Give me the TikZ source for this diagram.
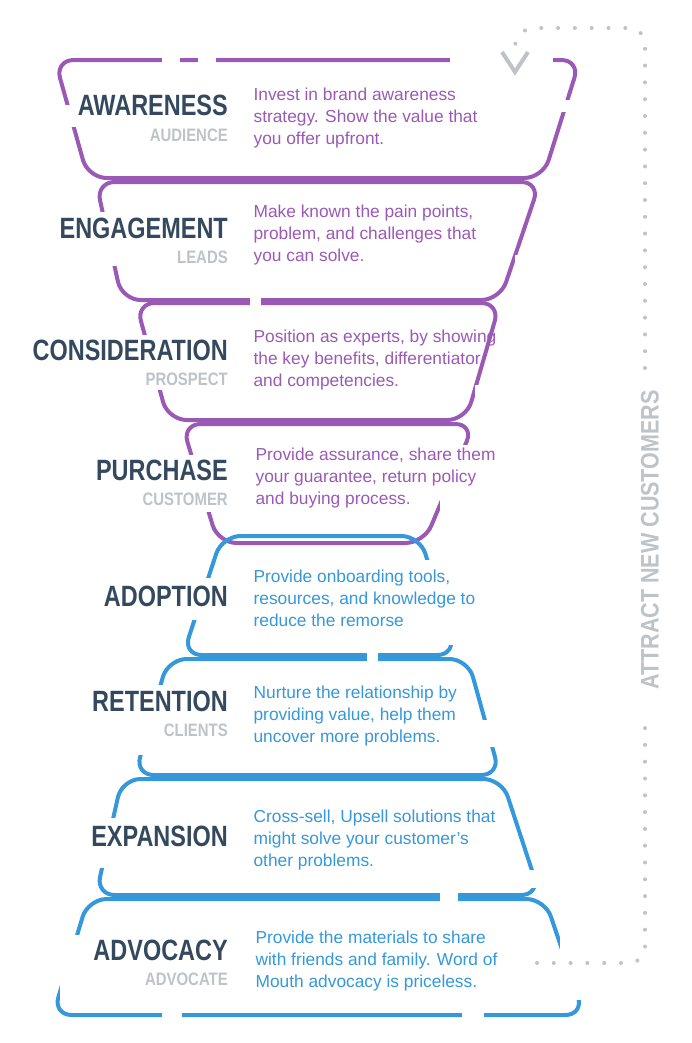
\documentclass[tikz,border=0pt]{standalone}
\usepackage{fontspec}
\setmainfont{Liberation Sans}
\begin{document}
\begin{tikzpicture}[x=0.75pt,y=-0.75pt,
  pur/.style={draw=purp,line width=3pt,rounded corners=14pt},
  blu/.style={draw=blue1,line width=3pt,rounded corners=14pt},
  gap/.style={fill=white,draw=none},
  ttl/.style={anchor=east,text=navy,font=\bfseries\fontsize{22}{24}\selectfont,xscale=0.8,inner sep=0},
  sub/.style={anchor=east,text=grey1,font=\bfseries\fontsize{13.5}{15}\selectfont,xscale=0.83,inner sep=0},
  dsc/.style={anchor=west,font=\fontsize{13}{16.5}\selectfont,align=left,inner sep=1pt},
  dots/.style={draw=grey1,line width=3pt,line cap=round,dash pattern=on 0pt off 12.6pt}]
\definecolor{purp}{HTML}{9B59B6}
\definecolor{blue1}{HTML}{3498DB}
\definecolor{navy}{HTML}{34495E}
\definecolor{grey1}{HTML}{BDC3C7}
\useasboundingbox (0,0) rectangle (692,1043);
% funnel shapes
\draw[pur] (55,60) -- (580,60) -- (543,178) -- (88,178) -- cycle;
\draw[pur] (96,182) -- (540,182) -- (500,300) -- (122,300) -- cycle;
\draw[pur] (136,303) -- (500,303) -- (466,420) -- (168,420) -- cycle;
\draw[pur] (182,424) -- (474,424) -- (424,543) -- (218,543) -- cycle;
\draw[blu] (222,536) -- (420,536) -- (456,655) -- (183,655) -- cycle;
\draw[blu] (168,659) -- (468,659) -- (500,775) -- (135,775) -- cycle;
\draw[blu] (122,779) -- (502,779) -- (540,895) -- (96,895) -- cycle;
\draw[blu] (88,899) -- (545,899) -- (584,1015) -- (53,1015) -- cycle;
% gaps
\fill[gap] (162,55) rectangle (180,66);
\fill[gap] (198,55) rectangle (216,66);
\fill[gap] (450,55) rectangle (553,66);
\fill[gap] (50,105) rectangle (80,127);
\fill[gap] (555,100) rectangle (585,112);
\fill[gap] (55,212) rectangle (232,266);
\fill[gap] (515,255) rectangle (540,270);
\fill[gap] (250,294) rectangle (261,306);
\fill[gap] (28,335) rectangle (232,390);
\fill[gap] (475,385) rectangle (495,398);
\fill[gap] (90,455) rectangle (232,512);
\fill[gap] (440,445) rectangle (480,520);
\fill[gap] (100,578) rectangle (232,620);
\fill[gap] (425,560) rectangle (455,645);
\fill[gap] (367,650) rectangle (378,662);
\fill[gap] (88,685) rectangle (232,755);
\fill[gap] (475,720) rectangle (500,747);
\fill[gap] (88,818) rectangle (232,868);
\fill[gap] (515,870) rectangle (545,888);
\fill[gap] (440,890) rectangle (458,905);
\fill[gap] (60,935) rectangle (232,1000);
\fill[gap] (560,930) rectangle (590,1000);
\fill[gap] (162,1009) rectangle (182,1021);
\fill[gap] (462,1009) rectangle (484,1021);
% titles
\node[ttl] (t1) at (228,105) {AWARENESS};
\node[sub] (s1) at (228,135) {AUDIENCE};
\node[ttl] (t2) at (228,228) {ENGAGEMENT};
\node[sub] (s2) at (228,257) {LEADS};
\node[ttl] (t3) at (228,350) {CONSIDERATION};
\node[sub] (s3) at (228,379) {PROSPECT};
\node[ttl] (t4) at (228,470) {PURCHASE};
\node[sub] (s4) at (228,499) {CUSTOMER};
\node[ttl] (t5) at (228,596) {ADOPTION};
\node[ttl] (t6) at (228,701) {RETENTION};
\node[sub] (s6) at (228,730) {CLIENTS};
\node[ttl] (t7) at (228,836) {EXPANSION};
\node[ttl] (t8) at (228,950) {ADVOCACY};
\node[sub] (s8) at (228,979) {ADVOCATE};
% descriptions
\node[dsc,text=purp] (d1) at (252,118) {Invest in brand awareness\\strategy. Show the value that\\you offer upfront.};
\node[dsc,text=purp] (d2) at (252,235) {Make known the pain points,\\problem, and challenges that\\you can solve.};
\node[dsc,text=purp] (d3) at (252,360) {Position as experts, by showing\\the key benefits, differentiator,\\and competencies.};
\node[dsc,text=purp] (d4) at (254,478) {Provide assurance, share them\\your guarantee, return policy\\and buying process.};
\node[dsc,text=blue1] (d5) at (252,598) {Provide onboarding tools,\\resources, and knowledge to\\reduce the remorse};
\node[dsc,text=blue1] (d6) at (252,716) {Nurture the relationship by\\providing value, help them\\uncover more problems.};
\node[dsc,text=blue1] (d7) at (252,840) {Cross-sell, Upsell solutions that\\might solve your customer's\\other problems.};
\node[dsc,text=blue1] (d8) at (254,961) {Provide the materials to share\\with friends and family. Word of\\Mouth advocacy is priceless.};
% side loop
\coordinate (a0) at (537,963);
\coordinate (a1) at (645,963);
\coordinate (a2) at (645,712);
\coordinate (a3) at (645,368);
\coordinate (a4) at (645,28);
\coordinate (a5) at (518,28);
\coordinate (a6) at (514,52);
\draw[dots,rounded corners=12pt] (a0) -- (a1) -- (a2);
\draw[dots,rounded corners=12pt] (a3) -- (a4) -- (a5) -- (a6);
\node[rotate=90,text=grey1,font=\bfseries\fontsize{19}{20}\selectfont,xscale=0.85,inner sep=0] (at) at (650,540) {ATTRACT NEW CUSTOMERS};
\coordinate (c1) at (502,52);
\coordinate (c2) at (515,72);
\coordinate (c3) at (528,52);
\draw[draw=grey1,line width=3pt] (c1) -- (c2) -- (c3);
\end{tikzpicture}
\end{document}
